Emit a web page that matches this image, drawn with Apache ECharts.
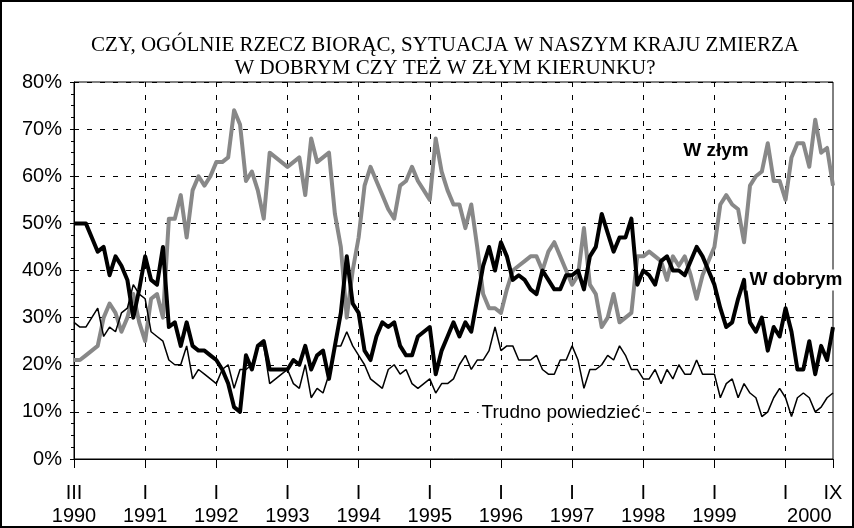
<!DOCTYPE html>
<html>

<head>
    <meta charset="UTF-8">
    <title>Kierunek zmian w kraju</title>
    <style>
        html, body { margin: 0; padding: 0; background: #fff; }
    </style>
</head>

<body>
    <div id="container" style="width: 854px;height: 528px;"></div>
    <script src="https://cdn.jsdelivr.net/npm/echarts@6/dist/echarts.min.js"></script>
    <script type="text/javascript">
        // kolejne badania, od III 1990 do IX 2000
        var dobrym = [
            50, 50, 50, 47, 44, 45, 39, 43, 41, 38, 30, 36, 43, 38, 37, 45, 28, 29,
            24, 29, 24, 23, 23, 22, 21, 19, 16, 11, 10, 22, 19, 24, 25, 19, 19, 19,
            19, 21, 20, 24, 19, 22, 23, 17, 24, 31, 43, 33, 31, 23, 21, 26, 29, 28,
            29, 24, 22, 22, 26, 27, 28, 18, 23, 26, 29, 26, 29, 27, 34, 41, 45, 40,
            46, 43, 38, 39, 38, 36, 35, 40, 38, 36, 36, 39, 39, 40, 36, 43, 45,
            52, 48, 44, 47, 47, 51, 37, 40, 39, 37, 42, 43, 40, 40, 39, 42, 45, 43,
            40, 37, 32, 28, 29, 34, 38, 29, 27, 30, 23, 28, 26, 32, 27, 19, 19, 25, 18, 24, 21, 28
        ];
        var zlym = [
            21, 21, 22, 23, 24, 30, 33, 31, 27, 30, 35, 29, 25, 34, 35, 30, 51, 51,
            56, 47, 57, 60, 58, 60, 63, 63, 64, 74, 71, 59, 61, 57, 51, 65, 64, 63,
            62, 63, 64, 56, 68, 63, 64, 65, 52, 45, 30, 40, 47, 58, 62, 59, 56, 53,
            51, 58, 59, 62, 59, 57, 55, 68, 61, 57, 54, 54, 49, 54, 45, 35, 32, 32,
            31, 36, 40, 41, 42, 43, 43, 40, 44, 46, 43, 40, 37, 39, 49, 37, 35,
            28, 30, 35, 29, 30, 31, 43, 43, 44, 43, 42, 38, 43, 41, 43, 39, 34, 39,
            42, 45, 54, 56, 54, 53, 46, 58, 60, 61, 67, 59, 59, 55, 64, 67, 67, 62, 72, 65, 66, 58
        ];
        var trudno = [
            29, 28, 28, 30, 32, 26, 28, 27, 31, 32, 37, 35, 34, 27, 26, 25, 21, 20,
            20, 24, 17, 19, 18, 17, 16, 19, 20, 15, 19, 19, 20, 24, 24, 16, 17, 18,
            19, 16, 15, 20, 13, 15, 14, 18, 24, 24, 27, 24, 22, 20, 17, 16, 15, 19,
            20, 18, 19, 16, 15, 16, 17, 14, 16, 16, 17, 20, 22, 19, 21, 21, 23, 28,
            23, 24, 24, 21, 21, 21, 22, 19, 18, 18, 21, 21, 24, 21, 15, 19, 19,
            20, 22, 21, 24, 22, 19, 19, 17, 17, 19, 16, 19, 17, 20, 18, 18, 21, 18,
            18, 18, 13, 16, 17, 13, 16, 14, 13, 9, 10, 13, 15, 13, 9, 13, 14, 13, 10, 11, 13, 14
        ];

        // podpisy osi X: numer badania -> miesiac, rok
        var monthPos = [0, 12, 24, 36, 48, 60, 72, 84, 96, 108, 120, 128];
        var monthLabels = ['III', 'I', 'I', 'I', 'I', 'I', 'I', 'I', 'I', 'I', 'I', 'IX'];
        var yearPos = [0, 12, 24, 36, 48, 60, 72, 84, 96, 108, 124];
        var yearLabels = ['1990', '1991', '1992', '1993', '1994', '1995', '1996', '1997', '1998', '1999', '2000'];

        var surveys = dobrym.map(function (v, i) { return String(i); });

        var font = 'Liberation Sans, Arial, sans-serif';
        var myChart = echarts.init(document.getElementById('container'));

        // podpis serii na bialym tle (zaslania siatke)
        function seriesLabel(text, x, y, weight) {
            return {
                type: 'text',
                x: x, y: y,
                z: 100,
                style: {
                    text: text,
                    font: weight + ' 19px ' + font,
                    fill: '#000',
                    align: 'center',
                    verticalAlign: 'middle',
                    backgroundColor: '#fff',
                    padding: [1, 3]
                }
            };
        }

        var option = {
            backgroundColor: '#fff',
            animation: false,
            title: {
                text: 'CZY, OGÓLNIE RZECZ BIORĄC, SYTUACJA W NASZYM KRAJU ZMIERZA\nW DOBRYM CZY TEŻ W ZŁYM KIERUNKU?',
                left: 440,
                top: 29,
                textAlign: 'center',
                textStyle: {
                    fontFamily: 'Liberation Serif, Times New Roman, serif',
                    fontWeight: 'normal',
                    fontSize: 21,
                    lineHeight: 23,
                    color: '#000'
                }
            },
            grid: {
                left: 74,
                right: 21,
                top: 82,
                bottom: 69,
                show: true,
                borderColor: '#000',
                borderWidth: 1,
                containLabel: false,
                outerBoundsMode: 'none'
            },
            xAxis: [{
                type: 'category',
                data: surveys,
                boundaryGap: false,
                axisLine: { lineStyle: { color: '#000', width: 1 } },
                axisTick: {
                    interval: function (idx) { return monthPos.indexOf(idx) >= 0; },
                    length: 9,
                    lineStyle: { color: '#000' }
                },
                axisLabel: {
                    interval: function (idx) { return monthPos.indexOf(idx) >= 0; },
                    formatter: function (val) {
                        return monthLabels[monthPos.indexOf(Number(val))];
                    },
                    margin: 24,
                    color: '#000',
                    fontFamily: font,
                    fontSize: 20
                },
                splitLine: {
                    show: true,
                    interval: function (idx) { return idx % 12 === 0 && idx > 0 && idx < 128; },
                    lineStyle: { color: '#000', type: [5, 8], width: 1 }
                }
            }, {
                type: 'category',
                data: surveys,
                position: 'bottom',
                boundaryGap: false,
                axisLine: { show: false },
                axisTick: { show: false },
                splitLine: { show: false },
                axisLabel: {
                    interval: function (idx) { return yearPos.indexOf(idx) >= 0; },
                    formatter: function (val) {
                        return yearLabels[yearPos.indexOf(Number(val))];
                    },
                    margin: 47,
                    color: '#000',
                    fontFamily: font,
                    fontSize: 20
                }
            }],
            yAxis: {
                type: 'value',
                min: 0,
                max: 80,
                interval: 10,
                axisLine: { show: true, lineStyle: { color: '#000', width: 1 } },
                axisTick: { show: true, length: 4, lineStyle: { color: '#000' } },
                minorTick: { show: true, splitNumber: 4, length: 3, lineStyle: { color: '#000' } },
                axisLabel: {
                    formatter: '{value}%',
                    margin: 12,
                    color: '#000',
                    fontFamily: font,
                    fontSize: 20
                },
                splitLine: {
                    lineStyle: { color: '#000', type: [5, 8], width: 1 }
                }
            },
            series: [{
                name: 'W złym',
                type: 'line',
                data: zlym,
                symbol: 'none',
                lineStyle: { color: '#888888', width: 4, join: 'round' }
            }, {
                name: 'Trudno powiedzieć',
                type: 'line',
                data: trudno,
                symbol: 'none',
                lineStyle: { color: '#000', width: 1.5 }
            }, {
                name: 'W dobrym',
                type: 'line',
                data: dobrym,
                symbol: 'none',
                lineStyle: { color: '#000', width: 4, join: 'round' }
            }],
            graphic: [{
                type: 'rect',
                shape: { x: 1, y: 1, width: 852, height: 526 },
                style: { fill: 'none', stroke: '#000', lineWidth: 2 },
                silent: true
            },
                seriesLabel('W złym', 716, 151, 'bold'),
                seriesLabel('W dobrym', 796, 280, 'bold'),
                seriesLabel('Trudno powiedzieć', 561, 413, 'normal')
            ]
        };
        myChart.setOption(option);
    </script>
</body>

</html>
